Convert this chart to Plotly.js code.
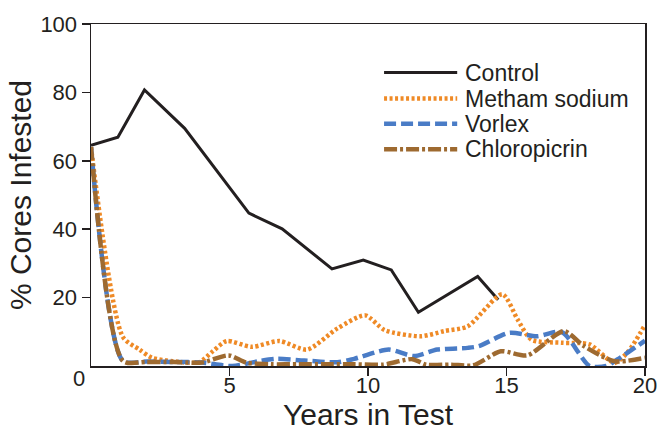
<!DOCTYPE html>
<html>
<head>
<meta charset="utf-8">
<script src="https://cdn.plot.ly/plotly-3.0.1.min.js"></script>
<style>html,body{margin:0;padding:0;background:#fff;}#chart{width:666px;height:434px;}</style>
</head>
<body>
<div id="chart"></div>
<script>
// Control
var controlYears = [0, 0.97, 1.93, 3.38, 5.7, 6.9, 8.7, 9.83, 10.84, 11.82, 13.96, 14.7];
var controlVals  = [64.5, 66.9, 80.7, 69.5, 44.7, 40.1, 28.4, 31.0, 28.1, 15.7, 26.2, 19.4];
// Metham sodium
var methamYears = [0, 1.15, 1.75, 2.2, 2.95, 3.9, 4.4, 4.9, 5.8, 6.8, 7.8, 8.9, 9.9, 10.6, 11.9, 12.75, 13.6, 14.85, 15.4, 15.9, 17.0, 18.0, 18.9, 19.4, 20];
var methamVals  = [64, 8.5, 4.8, 2.4, 1.4, 1.1, 4.3, 7.3, 5.6, 7.3, 4.8, 11.0, 14.8, 10.5, 8.7, 10.2, 11.6, 21.0, 13.6, 7.7, 6.8, 6.3, 0.9, 4.3, 12.0];
// Vorlex
var vorlexYears = [0, 1.15, 2, 3, 4, 5.1, 6.05, 6.7, 7.7, 8.9, 9.5, 10.75, 11.65, 12.5, 13.6, 14.0, 15.1, 16.1, 17.0, 18.0, 18.6, 19.0, 20];
var vorlexVals  = [64, 1.5, 1.3, 1.2, 1.0, 0.0, 1.4, 2.1, 1.6, 1.1, 2.1, 4.8, 2.9, 4.8, 5.3, 5.8, 9.7, 8.7, 9.9, 0.0, 0.0, 1.9, 7.4];
// Chloropicrin
var chloroYears = [0, 1.15, 2, 3, 4, 4.97, 5.6, 6.5, 7.5, 8.5, 9.5, 10.55, 11.6, 12.1, 13.0, 13.8, 14.8, 15.75, 17.07, 17.8, 18.9, 20];
var chloroVals  = [64, 1.5, 1.2, 1.2, 1.0, 3.1, 1.0, 0.5, 0.5, 0.5, 0.5, 0.4, 2.0, 0.4, 0.4, 0.2, 4.3, 3.1, 10.2, 5.8, 1.4, 2.4];

var seriesNames = ["Control", "Metham sodium", "Vorlex", "Chloropicrin"];
var xTicks = [5, 10, 15, 20];
var yTicks = [20, 40, 60, 80, 100];

var fontFam = "Liberation Sans, Arial, sans-serif";
var ink = "#231f20";
var styles = [
  {color: ink, width: 3, dash: "solid"},
  {color: "#ef8a26", width: 4.5, dash: "3px,2.5px"},
  {color: "#4a7cc6", width: 4.5, dash: "12px,5px"},
  {color: "#9e6a30", width: 4.5, dash: "13px,3px,3px,3px"}
];
var seriesX = [controlYears, methamYears, vorlexYears, chloroYears];
var seriesY = [controlVals, methamVals, vorlexVals, chloroVals];

var traces = seriesNames.map(function (n, i) {
  return {x: seriesX[i], y: seriesY[i], name: n, mode: "lines", showlegend: false,
          line: {color: styles[i].color, width: styles[i].width, dash: styles[i].dash,
                 shape: i === 0 ? "linear" : "spline", smoothing: 0.7}};
});

// legend drawn as key (paper coordinates)
var legendRows = [0.858, 0.782, 0.708, 0.634];
var shapes = [], annotations = [];
seriesNames.forEach(function (n, i) {
  shapes.push({type: "line", xref: "paper", yref: "paper",
               x0: 0.529, x1: 0.661, y0: legendRows[i], y1: legendRows[i],
               line: {color: styles[i].color, width: styles[i].width, dash: styles[i].dash}});
  annotations.push({xref: "paper", yref: "paper", x: 0.672, y: legendRows[i],
                    xanchor: "left", yanchor: "middle", showarrow: false, text: n,
                    font: {size: 23, color: ink}});
});
annotations.push({x: 0, y: 0, xref: "x", yref: "y", text: "0", showarrow: false,
                  xanchor: "right", yanchor: "top", xshift: -4, yshift: 2,
                  font: {size: 22, color: ink}});

var layout = {
  width: 666, height: 434,
  margin: {l: 91, r: 21, t: 24, b: 67.5, pad: 0},
  paper_bgcolor: "#fff", plot_bgcolor: "#fff",
  font: {family: fontFam, color: ink, size: 22},
  showlegend: false,
  xaxis: {range: [0, 20], tickvals: xTicks, ticktext: xTicks.map(String),
          ticks: "outside", ticklen: 8, tickwidth: 1.5, tickcolor: ink,
          showline: true, linecolor: ink, linewidth: 1.5, mirror: true,
          showgrid: false, zeroline: false, tickfont: {size: 22},
          ticklabelstandoff: -9,
          title: {text: "Years in Test", font: {size: 30}, standoff: 6}},
  yaxis: {range: [0, 100], tickvals: yTicks, ticktext: yTicks.map(String),
          ticks: "outside", ticklen: 8, tickwidth: 1.5, tickcolor: ink,
          showline: true, linecolor: ink, linewidth: 1.5, mirror: true,
          showgrid: false, zeroline: false, tickfont: {size: 22},
          title: {text: "% Cores Infested", font: {size: 30}, standoff: 0}},
  shapes: shapes,
  annotations: annotations
};

Plotly.newPlot("chart", traces, layout, {displayModeBar: false, staticPlot: true});
</script>
</body>
</html>
